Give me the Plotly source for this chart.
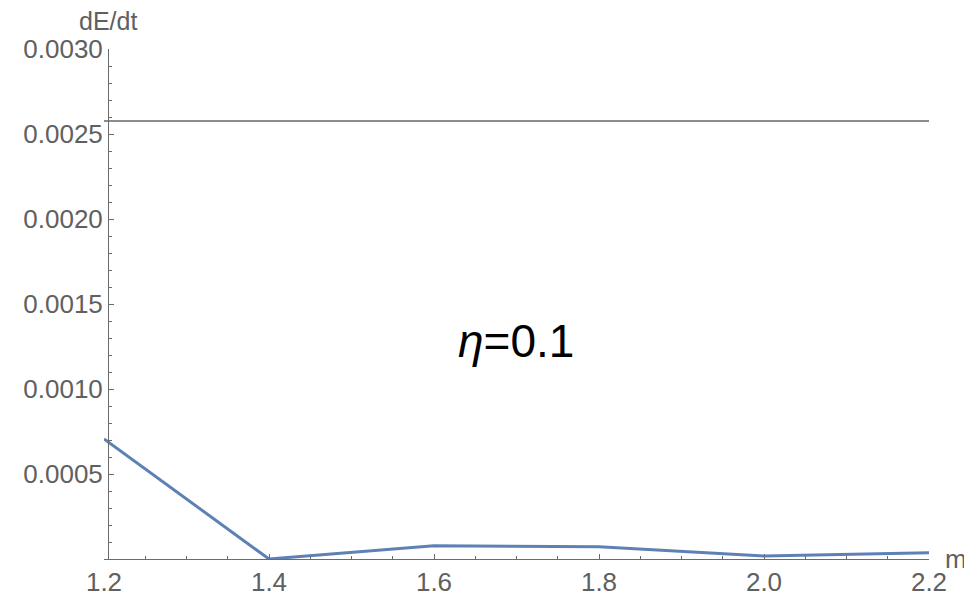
import plotly.graph_objects as go

m_vals = [1.2, 1.4, 1.6, 1.8, 2.0, 2.2]
dEdt_vals = [0.000706, 0.0000, 0.000078, 0.000072, 0.000018, 0.000037]
ref_level = 0.002576
x_ticks = [1.2, 1.4, 1.6, 1.8, 2.0, 2.2]
x_ticktext = ["1.2", "1.4", "1.6", "1.8", "2.0", "2.2"]
y_ticks = [0.0005, 0.0010, 0.0015, 0.0020, 0.0025, 0.0030]
y_ticktext = ["0.0005", "0.0010", "0.0015", "0.0020", "0.0025", "0.0030"]

FONT = "Liberation Sans"
AX = "#6b6b6b"
TXT = "#606060"

fig = go.Figure()
fig.add_trace(go.Scatter(x=[m_vals[0], m_vals[-1]], y=[ref_level, ref_level], mode="lines",
                         line=dict(color="#8c8c8c", width=2), hoverinfo="skip", showlegend=False))
fig.add_trace(go.Scatter(x=m_vals, y=dEdt_vals, mode="lines",
                         line=dict(color="#5E81B5", width=3), showlegend=False, cliponaxis=False))

fig.update_layout(
    width=964, height=593,
    margin=dict(l=96, r=43, t=41, b=42, autoexpand=False),
    plot_bgcolor="white", paper_bgcolor="white",
    font=dict(family=FONT, size=26, color=TXT),
    xaxis=dict(range=[1.2, 2.2], showgrid=False, zeroline=False, showline=True,
               linecolor=AX, linewidth=1.2, ticks="inside", ticklen=5, tickcolor=AX,
               tickvals=x_ticks, ticktext=x_ticktext, tickfont=dict(size=26, color=TXT),
               minor=dict(dtick=0.05, tick0=1.2, ticks="inside", ticklen=3, tickcolor=AX),
               anchor="y", automargin=False),
    yaxis=dict(range=[0, 0.003], showgrid=False, zeroline=False, showline=True,
               linecolor=AX, linewidth=1.2, ticks="inside", ticklen=5, tickcolor=AX,
               tickvals=y_ticks, ticktext=y_ticktext, tickfont=dict(size=26, color=TXT),
               minor=dict(dtick=0.0001, tick0=0, ticks="inside", ticklen=3, tickcolor=AX),
               anchor="free", position=0.005, automargin=False),
    annotations=[
        dict(text="dE/dt", x=0.005, y=1.0, xref="paper", yref="paper", xanchor="center",
             yanchor="bottom", yshift=12, showarrow=False, font=dict(size=25, color=TXT, family=FONT)),
        dict(text="m", x=1.0, y=0, xref="paper", yref="paper", xanchor="center",
             yanchor="middle", xshift=27, yshift=0, showarrow=False, font=dict(size=26, color=TXT, family=FONT)),
        dict(text="<i>η</i>=0.1", x=1.699, y=0.00128, xref="x", yref="y", xanchor="center",
             yanchor="middle", showarrow=False, font=dict(size=46, color="black", family=FONT)),
    ],
)

fig.write_html("out.html")
